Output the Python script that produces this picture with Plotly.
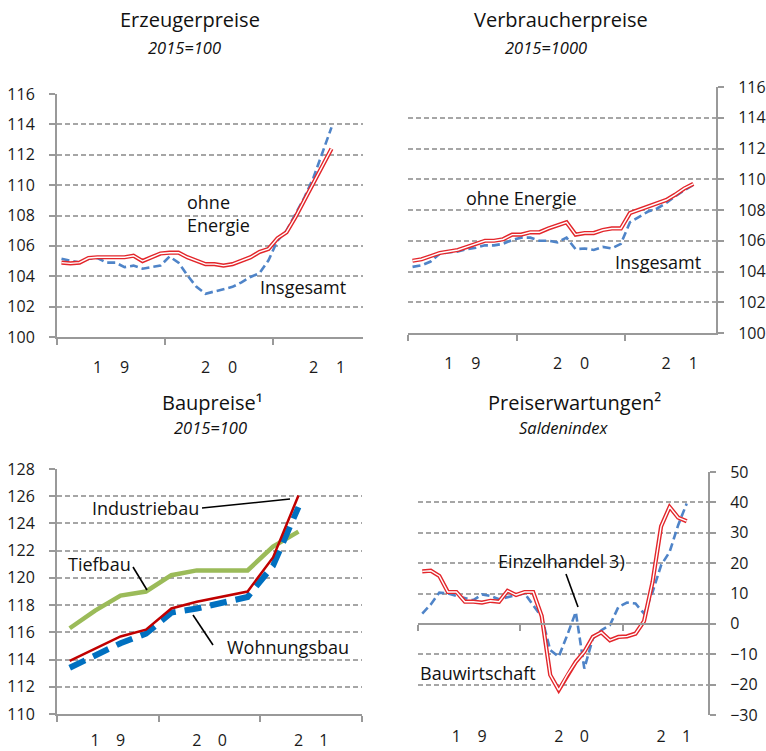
import plotly.graph_objects as go

W, H = 766, 751
FONT = "Open Sans"

# ---------------- data ----------------
# monthly, Jan 2019 ...
erz_ohne = [104.9, 104.85, 104.9, 105.2, 105.25, 105.25, 105.25, 105.25, 105.35, 105.0,
            105.25, 105.5, 105.55, 105.55, 105.25, 105.0, 104.8, 104.8, 104.7, 104.8,
            105.0, 105.25, 105.6, 105.8, 106.5, 106.9, 107.9, 109.0, 110.2, 111.3, 112.4]
erz_ges = [105.15, 105.0, 104.9, 105.15, 105.2, 104.9, 104.9, 104.6, 104.7, 104.5,
           104.6, 104.7, 105.3, 104.9, 104.05, 103.3, 102.85, 103.0, 103.1, 103.3,
           103.6, 103.95, 104.2, 105.05, 106.35, 107.0, 108.1, 109.2, 110.5, 112.1, 113.8]

vpi_ohne = [104.7, 104.8, 105.0, 105.2, 105.3, 105.4, 105.6, 105.8, 106.0, 106.0,
            106.1, 106.4, 106.4, 106.55, 106.55, 106.8, 107.0, 107.2, 106.4, 106.5,
            106.5, 106.7, 106.8, 106.8, 107.8, 108.0, 108.2, 108.4, 108.65, 109.0, 109.4, 109.7]
vpi_ges = [104.3, 104.4, 104.65, 105.15, 105.25, 105.3, 105.45, 105.55, 105.7, 105.7,
           105.8, 106.05, 106.2, 106.2, 106.0, 106.0, 105.9, 106.2, 105.45, 105.5,
           105.4, 105.6, 105.5, 105.8, 107.2, 107.55, 107.9, 108.1, 108.45, 108.9, 109.3, 109.65]

# quarterly, Q1 2019 ...
industriebau = [113.9, 114.8, 115.7, 116.2, 117.75, 118.25, 118.65, 119.0, 121.5, 126.05]
tiefbau = [116.3, 117.6, 118.7, 119.0, 120.2, 120.55, 120.55, 120.55, 122.3, 123.4]
wohnungsbau = [113.4, 114.3, 115.2, 115.9, 117.45, 117.75, 118.2, 118.6, 120.9, 125.2]

# monthly, Jan 2019 ...
bauwirtschaft = [17.3, 17.5, 15.8, 10.5, 10.5, 7.3, 7.3, 7.0, 7.6, 7.3,
                 10.9, 9.5, 10.5, 10.5, 2.6, -16.8, -21.8, -16.8, -12.5, -9.2,
                 -4.3, -2.8, -5.4, -4.3, -4.1, -3.2, 0.9, 13.8, 32.1, 38.5, 35.0, 33.8]
einzelhandel = [3.4, 6.4, 10.3, 10.0, 9.2, 8.6, 7.8, 9.7, 9.2, 8.1,
                8.9, 9.5, 10.0, 6.2, 2.3, -8.6, -10.8, -3.7, 3.9, -14.7,
                -4.8, -2.1, -0.4, 5.6, 7.0, 6.7, 3.4, 10.5, 19.3, 23.7, 32.5, 39.6]

year_digits = ["1", "9", "2", "0", "2", "1"]
year_digit_pos = [4.5, 7.5, 16.5, 19.5, 28.5, 31.5]   # in months from Jan 2019
year_bounds = [0, 12, 24, 36]

RED = "#e3262b"
BLUE = "#4f84c8"
GRID = "#a6a6a6"
AX = "#999999"

def mx(n):
    return [i + 0.5 for i in range(n)]

def qx(n):
    return [3 * i + 1.5 for i in range(n)]

fig = go.Figure()

def dbl(xa, ya, x, y):
    fig.add_trace(go.Scatter(x=x, y=y, xaxis=xa, yaxis=ya, mode="lines",
                             line=dict(color=RED, width=4.2), showlegend=False, hoverinfo="skip"))
    fig.add_trace(go.Scatter(x=x, y=y, xaxis=xa, yaxis=ya, mode="lines",
                             line=dict(color="white", width=1.4), showlegend=False, hoverinfo="skip"))

def dashed(xa, ya, x, y):
    fig.add_trace(go.Scatter(x=x, y=y, xaxis=xa, yaxis=ya, mode="lines",
                             line=dict(color=BLUE, width=2.6, dash="8px,4px"),
                             showlegend=False, hoverinfo="skip"))

# panel 1
dashed("x", "y", mx(len(erz_ges)), erz_ges)
dbl("x", "y", mx(len(erz_ohne)), erz_ohne)
# panel 2
dashed("x2", "y2", mx(len(vpi_ges)), vpi_ges)
dbl("x2", "y2", mx(len(vpi_ohne)), vpi_ohne)
# panel 3
fig.add_trace(go.Scatter(x=qx(len(tiefbau)), y=tiefbau, xaxis="x3", yaxis="y3", mode="lines",
                         line=dict(color="#9bbb59", width=4.5), showlegend=False, hoverinfo="skip"))
fig.add_trace(go.Scatter(x=qx(len(wohnungsbau)), y=wohnungsbau, xaxis="x3", yaxis="y3", mode="lines",
                         line=dict(color="#0070c0", width=6, dash="17px,9px"), showlegend=False, hoverinfo="skip"))
fig.add_trace(go.Scatter(x=qx(len(industriebau)), y=industriebau, xaxis="x3", yaxis="y3", mode="lines",
                         line=dict(color="#c00000", width=2.5), showlegend=False, hoverinfo="skip"))
# panel 4
dashed("x4", "y4", mx(len(einzelhandel)), einzelhandel)
dbl("x4", "y4", mx(len(bauwirtschaft)), bauwirtschaft)

def px_dom_x(a, b):
    return [a / W, b / W]

def px_dom_y(top, bottom):
    return [1 - bottom / H, 1 - top / H]

tickfont = dict(family=FONT, size=16, color="#1a1a1a")

def xaxis(dom, rng, bounds, anchor, showline=True, labels=True, standoff=15):
    return dict(domain=dom, range=rng, anchor=anchor, showgrid=False, zeroline=False,
                automargin=False,
                showline=showline, linecolor=AX, linewidth=2,
                tickmode="array", tickvals=year_digit_pos if labels else [],
                ticktext=year_digits if labels else [], ticks="",
                tickfont=tickfont, ticklabelstandoff=standoff,
                minor=dict(tickmode="array", tickvals=bounds, ticks="outside" if showline else "",
                           ticklen=6, tickwidth=2, tickcolor=AX, showgrid=False),
                fixedrange=True)

def yaxis(dom, rng, dtick, anchor, side):
    return dict(domain=dom, range=rng, anchor=anchor, side=side, dtick=dtick, tick0=rng[0],
                automargin=False,
                showgrid=True, gridcolor=GRID, gridwidth=1.5, griddash="5px,3px",
                zeroline=False, showline=True, linecolor=AX, linewidth=2,
                ticks="outside", ticklen=6, tickwidth=2, tickcolor=AX,
                tickfont=tickfont, ticklabelstandoff=11, fixedrange=True)

d1x = px_dom_x(57, 363); d1y = px_dom_y(94, 337)
d2x = px_dom_x(408, 716); d2y = px_dom_y(87, 333)
d3x = px_dom_x(57, 362); d3y = px_dom_y(469, 714)
d4x = px_dom_x(418, 708); d4y = px_dom_y(472, 715)

y4rng = [-30, 50]
zero_pos = d4y[0] + (0 - y4rng[0]) / (y4rng[1] - y4rng[0]) * (d4y[1] - d4y[0])

fig.update_layout(
    template="none",
    width=W, height=H, margin=dict(l=0, r=0, t=0, b=0, autoexpand=False),
    paper_bgcolor="white", plot_bgcolor="white",
    font=dict(family=FONT, color="#111"),
    xaxis=xaxis(d1x, [0, 34], year_bounds[:3], "y"),
    yaxis=yaxis(d1y, [100, 116], 2, "x", "left"),
    xaxis2=xaxis(d2x, [0, 34], year_bounds[:3], "y2"),
    yaxis2=yaxis(d2y, [100, 116], 2, "x2", "right"),
    xaxis3=xaxis(d3x, [0, 36], year_bounds, "y3", standoff=11),
    yaxis3=yaxis(d3y, [110, 128], 2, "x3", "left"),
    xaxis4=xaxis(d4x, [0, 34], year_bounds[:3], "y4", showline=False, standoff=10),
    yaxis4=yaxis(d4y, y4rng, 10, "x4", "right"),
    xaxis5=dict(overlaying="x4", anchor="free", position=zero_pos, range=[0, 34],
                domain=d4x, showgrid=False, zeroline=False, showline=True, linecolor=AX, linewidth=2,
                automargin=False,
                tickmode="array", tickvals=[], ticks="", showticklabels=False,
                minor=dict(tickmode="array", tickvals=year_bounds[:3], ticks="outside",
                           ticklen=6, tickwidth=2, tickcolor=AX, showgrid=False),
                fixedrange=True),
)
# make the overlaying axis render
fig.add_trace(go.Scatter(x=[None], y=[None], xaxis="x5", yaxis="y4", showlegend=False, hoverinfo="skip"))

def ann(text, px, py, size=18, xanchor="left", italic=False, align="left"):
    fig.add_annotation(text=text, x=px / W, y=1 - py / H, xref="paper", yref="paper",
                       xanchor=xanchor, yanchor="middle", showarrow=False, align=align,
                       font=dict(family=FONT, size=size, color="#111",
                                 style="italic" if italic else "normal"))

# titles
ann("Erzeugerpreise", 190, 20, size=20, xanchor="center")
ann("2015=100", 184, 47, size=16.5, xanchor="center", italic=True)
ann("Verbraucherpreise", 561, 20, size=20, xanchor="center")
ann("2015=1000", 546, 47, size=16.5, xanchor="center", italic=True)
ann("Baupreise¹", 212, 402, size=20, xanchor="center")
ann("2015=100", 210, 428, size=16.5, xanchor="center", italic=True)
ann("Preiserwartungen²", 574, 402, size=20, xanchor="center")
ann("Saldenindex", 563, 428, size=16.5, xanchor="center", italic=True)

# series labels
ann("ohne<br>Energie", 185, 214)
ann("Insgesamt", 258, 287)
ann("ohne Energie", 464, 198)
ann("Insgesamt", 613, 262)
ann("Industriebau", 90, 508)
ann("Tiefbau", 66, 564)
ann("Wohnungsbau", 225, 647)
ann("Einzelhandel 3)", 496, 561)
ann("Bauwirtschaft", 418, 673)

def leader(x0, y0, x1, y1):
    fig.add_shape(type="line", xref="paper", yref="paper",
                  x0=x0 / W, y0=1 - y0 / H, x1=x1 / W, y1=1 - y1 / H,
                  line=dict(color="black", width=1.6))

leader(202, 508, 290, 499)
leader(133, 567, 147, 590)
leader(193, 615, 213, 645)
leader(566, 574, 578, 607)

fig.write_html("out.html", config={"displayModeBar": False},
               post_script="document.body.style.margin='0';document.body.style.padding='0';")
